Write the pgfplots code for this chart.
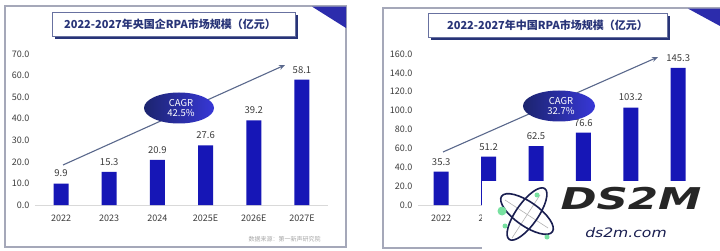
\documentclass[border=0pt]{standalone}
\usepackage{pgfplots}
\pgfplotsset{compat=1.18}
\usepackage{graphicx}
\usepackage{fontspec}
\setmainfont{Noto Sans CJK SC}
\newfontfamily\logofont{DejaVu Sans}
\usetikzlibrary{arrows.meta}
\definecolor{barblue}{RGB}{22,22,182}
\definecolor{navy}{RGB}{40,52,120}
\definecolor{ticktxt}{RGB}{60,60,60}
\definecolor{framegray}{RGB}{165,168,185}
\definecolor{arrowc}{RGB}{90,104,140}
\definecolor{ellL}{RGB}{28,36,110}
\definecolor{ellR}{RGB}{55,55,215}
\definecolor{logonavy}{RGB}{25,30,80}
\definecolor{logogreen}{RGB}{120,225,160}

\pgfplotsset{
  rpa/.style={
    scale only axis,
    height=151pt,
    ymin=0,
    axis lines=left,
    axis line style={-},
    y axis line style={draw=none},
    x axis line style={draw=gray!30, line width=1pt},
    tick style={draw=none},
    xtick={0,...,5},
    /pgf/number format/assume math mode=true,
    ticklabel style={font=\fontsize{9}{10}\selectfont, text=ticktxt},
    xticklabel style={yshift=-2pt},
    yticklabel style={/pgf/number format/.cd, fixed, fixed zerofill, precision=1},
    ybar,
    bar width=15pt,
    nodes near coords,
    nodes near coords style={font=\fontsize{9.5}{10}\selectfont, text=ticktxt, yshift=3pt,
      /pgf/number format/.cd, fixed, fixed zerofill, precision=1},
    clip=false,
  }
}

\begin{document}
\begin{tikzpicture}
\useasboundingbox (0pt,0pt) rectangle (720pt,-251pt);
\fill[white] (0pt,0pt) rectangle (720pt,-251pt);

\begin{scope}[x=1pt,y=-1pt]
  % panel frames
  \draw[framegray, line width=1.2pt] (5,6) rectangle (346,247);
  \draw[framegray, line width=1.2pt] (383,8) rectangle (730,248);
  % corner triangles
  \fill[ellR!80!black] (312,6.6) -- (346,6.6) -- (346,28) -- cycle;
  \fill[ellR!80!black] (688,8.6) -- (720,8.6) -- (720,26) -- cycle;
  % title boxes
  \fill[navy] (55,15) rectangle (298,39);
  \filldraw[fill=white, draw=navy!70, line width=0.8pt] (52,12) rectangle (295,36);
  \node[text=navy, font=\fontsize{11}{12}\selectfont\bfseries] at (170,24.5) {2022-2027年央国企RPA市场规模（亿元）};
  \fill[navy] (431,16) rectangle (670,40);
  \filldraw[fill=white, draw=navy!70, line width=0.8pt] (428,13) rectangle (667,37);
  \node[text=navy, font=\fontsize{11}{12}\selectfont\bfseries] at (547.5,25) {2022-2027年中国RPA市场规模（亿元）};
  % source
  \node[text=gray!70, font=\fontsize{6}{7}\selectfont, anchor=west] at (245,239) {数据来源：第一新声研究院};
\end{scope}

% left chart
\begin{axis}[rpa, at={(35pt,-205pt)}, anchor=south west,
  width=293pt, xmin=-0.54, xmax=5.54, ymax=70, ytick={0,10,...,70},
  xticklabels={2022,2023,2024,2025E,2026E,2027E}]
\addplot[fill=barblue, draw=none] coordinates {(0,9.9) (1,15.3) (2,20.9) (3,27.6) (4,39.2) (5,58.1)};
\end{axis}

% right chart (labels from 2024 on are hidden under the overlay, as in the reference)
\begin{axis}[rpa, at={(418pt,-205pt)}, anchor=south west,
  width=282pt, xmin=-0.49, xmax=5.46, ymax=160, ytick={0,20,...,160},
  xticklabels={2022,2023,{},{},{},{}}]
\addplot[fill=barblue, draw=none] coordinates {(0,35.3) (1,51.2) (2,62.5) (3,76.6) (4,103.2) (5,145.3)};
\end{axis}

\begin{scope}[x=1pt,y=-1pt]
  % CAGR arrows and ellipses
  \draw[arrowc, line width=1.1pt, -{Stealth[length=6pt,width=5pt]}] (63,165) -- (285,65);
  \shade[left color=ellL, right color=ellR] (179,108) ellipse [x radius=35, y radius=15.5];
  \node[white, font=\fontsize{9.5}{9.5}\selectfont, align=center, inner sep=0pt] at (181,108) {CAGR\\[1pt]42.5\%};
  \draw[arrowc, line width=1.1pt, -{Stealth[length=6pt,width=5pt]}] (443,152) -- (658,57);
  \shade[left color=ellL, right color=ellR] (559,106) ellipse [x radius=36, y radius=15.5];
  \node[white, font=\fontsize{9.5}{9.5}\selectfont, align=center, inner sep=0pt] at (561,106) {CAGR\\[1pt]32.7\%};

  % ds2m overlay
  \fill[white] (482,181) rectangle (720,251);
  \draw[gray!60, line width=0.6pt] (505,200) -- (548,228);
  \draw[gray!60, line width=0.6pt] (540,195) -- (512,238);
  \draw[logonavy, line width=1.6pt, rotate around={-35:(527,214)}] (527,214) ellipse [x radius=31, y radius=12];
  \draw[logonavy, line width=1.6pt, rotate around={55:(527,214)}] (527,214) ellipse [x radius=31, y radius=11];
  \fill[logogreen] (502,211) circle (4.5);
  \fill[logogreen] (537,195) circle (2.5);
  \fill[logogreen] (505,226) circle (2.5);
  \fill[logogreen] (547,237) circle (2.5);
  \node[font=\logofont\fontsize{30}{30}\selectfont\bfseries\itshape, text=black!85, inner sep=0pt] at (631,199) {\scalebox{1.45}[1]{DS2M}};
  \node[font=\logofont\fontsize{13}{13}\selectfont\itshape, text=logonavy, inner sep=0pt] at (626,233) {\scalebox{1.2}[1]{ds2m.com}};
\end{scope}
\end{tikzpicture}
\end{document}
